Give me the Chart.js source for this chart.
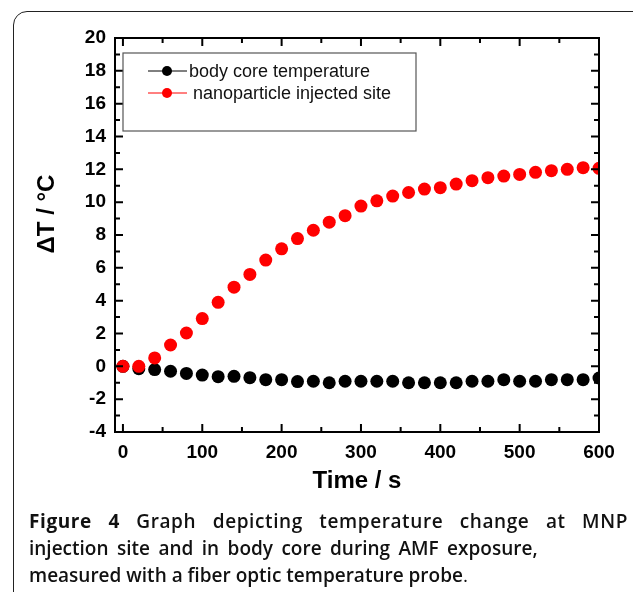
<!DOCTYPE html>
<html>
<head>
<meta charset="utf-8">
<script src="https://cdn.jsdelivr.net/npm/chart.js@4.4.1/dist/chart.umd.min.js"></script>
<style>
  html, body { margin: 0; padding: 0; background: #fff; width: 633px; height: 592px; overflow: hidden; }
  #frame { position: absolute; left: 13px; top: 11px; width: 640px; height: 620px; border: 1.5px solid #222; border-radius: 14px; box-sizing: border-box; }
  #wrap { position: absolute; left: 0; top: 0; width: 633px; height: 510px; }
  #caption { position: absolute; left: 29px; top: 508px; width: 599px; font-family: "Open Sans", "Noto Sans", sans-serif; font-size: 19px; line-height: 27px; font-weight: 600; color: #111; }
  #caption .l1 { white-space: nowrap; display: flex; justify-content: space-between; letter-spacing: 0.6px; }
  #caption .l2 { word-spacing: 3.5px; }
  #caption b { font-weight: 700; }
  #caption .dot { font-weight: 400; }
</style>
</head>
<body>
<div id="frame"></div>
<div id="wrap"><canvas id="c" width="633" height="510"></canvas></div>
<div id="caption">
  <div class="l1"><span><b>Figure</b></span><span><b>4</b></span><span>Graph</span><span>depicting</span><span>temperature</span><span>change</span><span>at</span><span>MNP</span></div>
  <div class="l2">injection site and in body core during AMF exposure,</div>
  <div>measured with a fiber optic temperature probe<span class="dot">.</span></div>
</div>
<script>
const times = [0,20,40,60,80,100,120,140,160,180,200,220,240,260,280,300,320,340,360,380,400,420,440,460,480,500,520,540,560,580,600];
const bodyCore = [0,-0.14,-0.2,-0.3,-0.43,-0.53,-0.63,-0.61,-0.69,-0.81,-0.81,-0.93,-0.91,-1.0,-0.91,-0.91,-0.91,-0.91,-1.0,-1.0,-1.0,-1.0,-0.91,-0.91,-0.81,-0.91,-0.91,-0.81,-0.81,-0.81,-0.71];
const injected = [0,0,0.51,1.30,2.03,2.91,3.90,4.82,5.60,6.47,7.16,7.78,8.29,8.78,9.18,9.76,10.08,10.37,10.59,10.80,10.88,11.10,11.31,11.49,11.59,11.69,11.82,11.92,12.0,12.10,12.06];
const xTicks = [0,100,200,300,400,500,600];
const yTicks = [-4,-2,0,2,4,6,8,10,12,14,16,18,20];
const xMinor = [50,150,250,350,450,550];
const yMinor = [-3,-1,1,3,5,7,9,11,13,15,17,19];
const seriesNames = ['body core temperature', 'nanoparticle injected site'];
const xTitle = 'Time / s';
const yTitle = '\u0394T / \u00B0C';

const FONT = '"Liberation Sans", Arial, sans-serif';

const framePlugin = {
  id: 'frameTicks',
  afterDraw(chart) {
    const ctx = chart.ctx;
    const a = chart.chartArea;
    const xs = chart.scales.x, ys = chart.scales.y;
    ctx.save();
    ctx.strokeStyle = '#000';
    ctx.lineWidth = 2;
    ctx.strokeRect(a.left, a.top, a.right - a.left, a.bottom - a.top);
    ctx.beginPath();
    const tick = (vals, len) => {
      vals.forEach(v => {
        const px = xs.getPixelForValue(v);
        ctx.moveTo(px, a.bottom); ctx.lineTo(px, a.bottom - len);
        ctx.moveTo(px, a.top); ctx.lineTo(px, a.top + len);
      });
    };
    const tickY = (vals, len) => {
      vals.forEach(v => {
        const py = ys.getPixelForValue(v);
        ctx.moveTo(a.left, py); ctx.lineTo(a.left + len, py);
        ctx.moveTo(a.right, py); ctx.lineTo(a.right - len, py);
      });
    };
    tick(xTicks, 8); tick(xMinor, 5);
    tickY(yTicks, 8); tickY(yMinor, 5);
    ctx.stroke();

    // y-axis title
    ctx.save();
    ctx.translate(47, 214);
    ctx.rotate(-Math.PI / 2);
    ctx.font = 'bold 24px ' + FONT;
    ctx.fillStyle = '#000';
    ctx.textAlign = 'center';
    ctx.textBaseline = 'middle';
    ctx.fillText(yTitle, 0, 0);
    ctx.restore();

    // legend
    const lx = a.left + 8, ly = a.top + 15;
    ctx.lineWidth = 1.2;
    ctx.strokeStyle = '#555';
    ctx.strokeRect(lx, ly, 293, 78);
    const rows = [
      { color: '#000', name: seriesNames[0], y: ly + 18, tx: lx + 66 },
      { color: '#ff0000', name: seriesNames[1], y: ly + 40, tx: lx + 70 }
    ];
    rows.forEach(r => {
      ctx.strokeStyle = r.color;
      ctx.lineWidth = 1;
      ctx.beginPath();
      ctx.moveTo(lx + 25, r.y); ctx.lineTo(lx + 64, r.y);
      ctx.stroke();
      ctx.fillStyle = r.color;
      ctx.beginPath();
      ctx.arc(lx + 44, r.y, 5, 0, Math.PI * 2);
      ctx.fill();
      ctx.fillStyle = '#111';
      ctx.font = '18px ' + FONT;
      ctx.textAlign = 'left';
      ctx.textBaseline = 'middle';
      ctx.fillText(r.name, r.tx, r.y + 1);
    });
    ctx.restore();
  }
};

new Chart(document.getElementById('c'), {
  type: 'scatter',
  data: {
    datasets: [
      {
        label: seriesNames[0],
        data: times.map((t, i) => ({ x: t, y: bodyCore[i] })),
        backgroundColor: '#000',
        borderColor: '#000',
        pointRadius: 6.5,
        pointHoverRadius: 6.5,
        borderWidth: 0,
        order: 1
      },
      {
        label: seriesNames[1],
        data: times.map((t, i) => ({ x: t, y: injected[i] })),
        backgroundColor: '#ff0000',
        borderColor: '#ff0000',
        pointRadius: 6.5,
        pointHoverRadius: 6.5,
        borderWidth: 0,
        order: 0
      }
    ]
  },
  options: {
    responsive: false,
    animation: false,
    devicePixelRatio: 1,
    layout: { padding: { left: 20, top: 38, right: 34, bottom: 0 } },
    plugins: { legend: { display: false }, tooltip: { enabled: false } },
    scales: {
      x: {
        type: 'linear',
        min: -10, max: 600,
        afterBuildTicks: s => { s.ticks = xTicks.map(v => ({ value: v })); },
        afterFit: s => { s.height = 78; },
        grid: { display: false, drawTicks: false },
        border: { display: true, color: '#000', width: 2 },
        ticks: { color: '#000', font: { family: FONT, size: 19, weight: 'bold' }, padding: 9, maxRotation: 0 },
        title: { display: true, text: xTitle, color: '#000', font: { family: FONT, size: 24, weight: 'bold' }, padding: { top: 0, bottom: 14 } }
      },
      y: {
        type: 'linear',
        min: -4, max: 20,
        afterBuildTicks: s => { s.ticks = yTicks.map(v => ({ value: v })); },
        afterFit: s => { s.width = 95; },
        grid: { display: false, drawTicks: false },
        border: { display: true, color: '#000', width: 2 },
        ticks: { color: '#000', font: { family: FONT, size: 19, weight: 'bold' }, padding: 9 },
        title: { display: false }
      }
    }
  },
  plugins: [framePlugin]
});
</script>
</body>
</html>
